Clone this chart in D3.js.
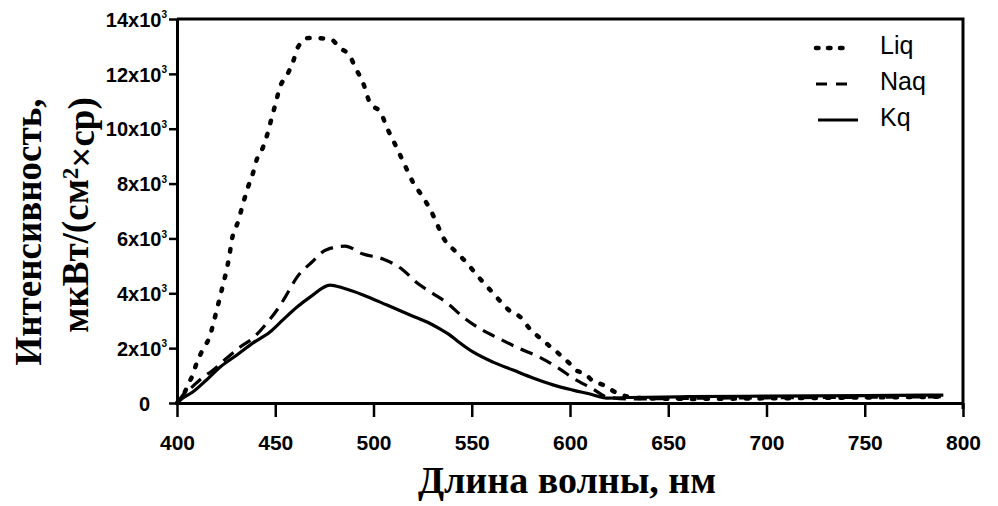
<!DOCTYPE html>
<html>
<head>
<meta charset="utf-8">
<script src="https://cdn.jsdelivr.net/npm/d3@7"></script>
<style>
  body { margin: 0; background: #fff; }
  svg { display: block; }
</style>
</head>
<body>
<svg id="chart" width="998" height="506"></svg>
<script>
// Emission spectra of the three aqueous solutions
const liqWave = [400, 404, 406, 408, 410, 413, 417, 418.3, 421, 423, 425, 426.5, 428, 431, 433.6, 436, 438.7, 440.7, 443.8, 446.3, 448.3, 450, 452.4, 456, 459, 461.6, 467, 478, 483, 488, 490.6, 494.7, 498.2, 503.8, 506.9, 510.9, 515, 520, 524.7, 529.3, 532.3, 535.9, 541.5, 547.6, 551.7, 555.7, 560.3, 564.9, 569.5, 574.6, 579.6, 584.7, 594.4, 599.5, 603.6, 607.1, 611.7, 616.8, 624, 635, 660, 700, 750, 790];
const liqVal  = [0, 400, 730, 1020, 1460, 1930, 2500, 2850, 3610, 4190, 4780, 5300, 5980, 6600, 7260, 7840, 8390, 8900, 9330, 9880, 10430, 10870, 11520, 11960, 12430, 12980, 13310, 13270, 12940, 12650, 12250, 11670, 10940, 10570, 10030, 9440, 8820, 8060, 7550, 7000, 6530, 5980, 5540, 5100, 4740, 4410, 4050, 3680, 3350, 3140, 2700, 2370, 1790, 1460, 1170, 1090, 800, 660, 360, 180, 150, 170, 200, 230];

const naqWave = [400, 403, 407.6, 412.7, 417.8, 425.4, 432.1, 438.7, 445.8, 452.4, 455, 461.1, 468.7, 475.8, 485.5, 494.7, 504.8, 515, 521.6, 529.8, 537.4, 545.5, 553.7, 564.4, 573.5, 584.2, 593.9, 601.5, 611.7, 618.8, 630, 660, 700, 750, 790];
const naqVal  = [0, 290, 580, 910, 1170, 1640, 2040, 2370, 2920, 3550, 3850, 4590, 5140, 5580, 5720, 5430, 5250, 4850, 4410, 4010, 3650, 3140, 2730, 2330, 2010, 1680, 1280, 910, 510, 220, 150, 170, 190, 210, 230];

const kqWave = [400, 403, 408, 415, 422, 430.5, 438.7, 447.3, 453.9, 461.1, 467.7, 477.9, 484.5, 494.7, 506.9, 518.6, 528.8, 533.8, 538.4, 542.5, 550.6, 560.8, 571, 581.2, 591.3, 601.5, 610.2, 618.8, 630, 660, 700, 750, 790];
const kqVal  = [0, 180, 400, 840, 1310, 1750, 2190, 2590, 3030, 3500, 3860, 4300, 4190, 3940, 3570, 3210, 2900, 2700, 2500, 2270, 1860, 1490, 1200, 910, 660, 470, 330, 180, 200, 230, 250, 270, 290];

const seriesNames = ["Liq", "Naq", "Kq"];

const xTicks = [400, 450, 500, 550, 600, 650, 700, 750, 800];
const yTicks = [0, 2000, 4000, 6000, 8000, 10000, 12000, 14000];
const yTickMantissa = ["0", "2x10", "4x10", "6x10", "8x10", "10x10", "12x10", "14x10"];

const xTitle = "Длина волны, нм";
const yTitle1 = "Интенсивность,";
const yTitle2 = ["мкВт/(см", "2", "×ср)"];

// ---- layout ----
const plotL = 177, plotR = 963, plotT = 19, plotB = 403;
const svg = d3.select("#chart");

const x = d3.scaleLinear().domain([400, 800]).range([plotL, plotR]);
const y = d3.scaleLinear().domain([0, 14000]).range([plotB, plotT]);

const tickFont = "'Liberation Sans', Arial, sans-serif";
const titleFont = "'Liberation Serif', 'Times New Roman', serif";

// frame (top and right edges)
svg.append("path")
  .attr("d", `M${plotL},${plotT}H${plotR}V${plotB + 6}`)
  .attr("fill", "none").attr("stroke", "#000").attr("stroke-width", 3);

// x axis
const gx = svg.append("g")
  .attr("transform", `translate(0,${plotB})`)
  .call(d3.axisBottom(x).tickValues(xTicks).tickFormat(d3.format("d"))
    .tickSizeInner(14).tickSizeOuter(0).tickPadding(18));
gx.select(".domain").attr("stroke-width", 3);
gx.selectAll(".tick line").attr("stroke-width", 2.5);
gx.selectAll(".tick text")
  .attr("font-family", tickFont).attr("font-weight", "bold")
  .attr("font-size", 21).attr("fill", "#000");

// y axis
const gy = svg.append("g")
  .attr("transform", `translate(${plotL},0)`)
  .call(d3.axisLeft(y).tickValues(yTicks).tickFormat("")
    .tickSizeInner(8).tickSizeOuter(0).tickPadding(2));
gy.select(".domain").attr("stroke-width", 3);
gy.selectAll(".tick line").attr("stroke-width", 2.5);
gy.selectAll(".tick").each(function(d, i) {
  const t = d3.select(this).select("text")
    .attr("font-family", tickFont).attr("font-weight", "bold")
    .attr("font-size", 20).attr("fill", "#000").attr("dy", "0.36em");
  t.text(null);
  t.append("tspan").text(yTickMantissa[i]);
  if (d !== 0) {
    t.append("tspan").text("3").attr("font-size", 10).attr("dy", "-0.85em");
  } else {
    t.attr("dx", -17);
  }
});

// curves
const line = d3.line()
  .x(d => x(d[0]))
  .y(d => y(d[1]))
  .curve(d3.curveMonotoneX);

const zip = (a, b) => a.map((v, i) => [v, b[i]]);

const styles = {
  Liq: { dash: "2.5,11", width: 4.5, cap: "round" },
  Naq: { dash: "13,8",  width: 3.2, cap: "butt" },
  Kq:  { dash: null,    width: 3.2, cap: "butt" }
};

const series = [
  { name: "Kq",  data: zip(kqWave, kqVal) },
  { name: "Naq", data: zip(naqWave, naqVal) },
  { name: "Liq", data: zip(liqWave, liqVal) }
];

svg.append("g").selectAll("path")
  .data(series)
  .join("path")
  .attr("d", s => line(s.data))
  .attr("fill", "none")
  .attr("stroke", "#000")
  .attr("stroke-width", s => styles[s.name].width)
  .attr("stroke-linecap", s => styles[s.name].cap)
  .attr("stroke-linejoin", "round")
  .attr("stroke-dasharray", s => styles[s.name].dash);

// legend
const legendY = d3.scalePoint().domain(seriesNames).range([45, 117]);
const lg = svg.append("g");
seriesNames.forEach(n => {
  const st = styles[n];
  const yy = legendY(n);
  lg.append("line")
    .attr("x1", n === "Kq" ? 818 : 816).attr("x2", n === "Kq" ? 858 : 852)
    .attr("y1", yy + 3).attr("y2", yy + 3)
    .attr("stroke", "#000").attr("stroke-width", st.width)
    .attr("stroke-linecap", st.cap)
    .attr("stroke-dasharray", n === "Liq" ? "2.5,9.5" : (n === "Naq" ? "11,9" : null));
  lg.append("text")
    .attr("x", 880).attr("y", yy).attr("dy", "0.36em")
    .attr("font-family", tickFont).attr("font-size", 25)
    .attr("fill", "#000").text(n);
});

// axis titles
svg.append("text")
  .attr("x", 567).attr("y", 493)
  .attr("text-anchor", "middle")
  .attr("font-family", titleFont).attr("font-weight", "bold")
  .attr("font-size", 38).attr("fill", "#000")
  .text(xTitle);

const yt = svg.append("text")
  .attr("transform", "translate(41,232) rotate(-90)")
  .attr("text-anchor", "middle")
  .attr("font-family", titleFont).attr("font-weight", "bold")
  .attr("font-size", 37).attr("fill", "#000");
yt.append("tspan").attr("x", 0).attr("y", 0).text(yTitle1);
const l2 = yt.append("tspan").attr("x", 17).attr("y", 47);
l2.text(yTitle2[0]);
yt.append("tspan").attr("dy", "-0.45em").attr("font-size", 23).text(yTitle2[1]);
yt.append("tspan").attr("dy", "0.45em").text(yTitle2[2]);
</script>
</body>
</html>
